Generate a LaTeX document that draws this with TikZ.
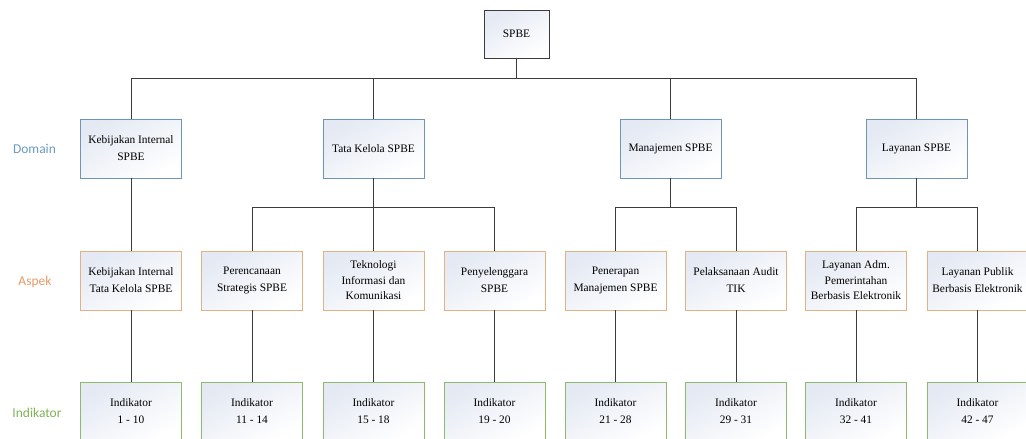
\documentclass[tikz,border=0pt]{standalone}
\usepackage{fontspec}
\setmainfont{Liberation Serif}
\newfontfamily\lblfont{Carlito}
\usepackage{tikz}
\usepackage{xcolor}
\definecolor{domaincol}{HTML}{6A9BC3}
\definecolor{aspekcol}{HTML}{E59A66}
\definecolor{indikcol}{HTML}{7FB158}
\definecolor{domainline}{HTML}{6C96B4}
\definecolor{aspekline}{HTML}{E2B283}
\definecolor{indikline}{HTML}{8DBB6E}
\definecolor{boxtint}{HTML}{E4E9F3}
\definecolor{linkcol}{HTML}{3C3C3C}
\tikzset{
    plain-box/.style = {rectangle, thin, top color=boxtint, bottom color=white, shading angle=30,
        minimum width=101pt, minimum height=59pt, inner sep=2pt, align=center,
        font=\fontsize{11.4}{17}\selectfont},
    domain-box/.style = {plain-box, draw=domainline},
    aspek-box/.style = {plain-box, draw=aspekline},
    indik-box/.style = {plain-box, draw=indikline},
    level-label/.style = {font=\lblfont\fontsize{13.5}{16}\selectfont},
    link/.style = {draw=linkcol, line width=0.9pt},
}

\begin{document}
\begin{tikzpicture}[x=1pt, y=-1pt]
\useasboundingbox (0,0) rectangle (1026,439);
% root
\node [plain-box, draw=linkcol, minimum width=65pt, minimum height=48pt] (spbe) at (516.5,34) {SPBE};

% domain
\node [domain-box] (dkip) at (131,148.5) {Kebijakan Internal\\SPBE};
\node [domain-box] (dtk) at (373.5,148.5) {Tata Kelola SPBE};
\node [domain-box] (dman) at (670.5,148.5) {Manajemen SPBE};
\node [domain-box] (dlay) at (916.5,148.5) {Layanan SPBE};

% aspek
\node [aspek-box] (akip) at (131,280.5) {Kebijakan Internal\\Tata Kelola SPBE};
\node [aspek-box] (astr) at (252,280.5) {Perencanaan\\Strategis SPBE};
\node [aspek-box, font=\fontsize{11.4}{15.5}\selectfont] (atik) at (373.5,280.5) {Teknologi\\Informasi dan\\Komunikasi};
\node [aspek-box] (apen) at (494.5,280.5) {Penyelenggara\\SPBE};
\node [aspek-box] (aman) at (615.5,280.5) {Penerapan\\Manajemen SPBE};
\node [aspek-box] (aaud) at (736,280.5) {Pelaksanaan Audit\\TIK};
\node [aspek-box, font=\fontsize{11.4}{15.5}\selectfont] (aadm) at (856,280.5) {Layanan Adm.\\Pemerintahan\\Berbasis Elektronik};
\node [aspek-box] (apub) at (977.5,280.5) {Layanan Publik\\Berbasis Elektronik};

% indikator
\node [indik-box] (ikip) at (131,411.5) {Indikator\\1 - 10};
\node [indik-box] (istr) at (252,411.5) {Indikator\\11 - 14};
\node [indik-box] (itik) at (373.5,411.5) {Indikator\\15 - 18};
\node [indik-box] (ipen) at (494.5,411.5) {Indikator\\19 - 20};
\node [indik-box] (iman) at (615.5,411.5) {Indikator\\21 - 28};
\node [indik-box] (iaud) at (736,411.5) {Indikator\\29 - 31};
\node [indik-box] (iadm) at (856,411.5) {Indikator\\32 - 41};
\node [indik-box] (ipub) at (977.5,411.5) {Indikator\\42 - 47};

% level labels
\node [level-label, text=domaincol] (ldom) at (34.5,149) {Domain};
\node [level-label, text=aspekcol] (lasp) at (35,282) {Aspek};
\node [level-label, text=indikcol] (lind) at (37,413) {Indikator};

% links
\foreach \d in {dkip,dtk,dman,dlay}
    \draw [link] (spbe.south) -- ++(0,20) -| (\d.north);
\draw [link] (dkip) -- (akip);
\foreach \a in {astr,atik,apen}
    \draw [link] (dtk.south) -- ++(0,29) -| (\a.north);
\foreach \a in {aman,aaud}
    \draw [link] (dman.south) -- ++(0,29) -| (\a.north);
\foreach \a in {aadm,apub}
    \draw [link] (dlay.south) -- ++(0,29) -| (\a.north);
\foreach \a/\i in {akip/ikip,astr/istr,atik/itik,apen/ipen,aman/iman,aaud/iaud,aadm/iadm,apub/ipub}
    \draw [link] (\a) -- (\i);
\end{tikzpicture}
\end{document}
